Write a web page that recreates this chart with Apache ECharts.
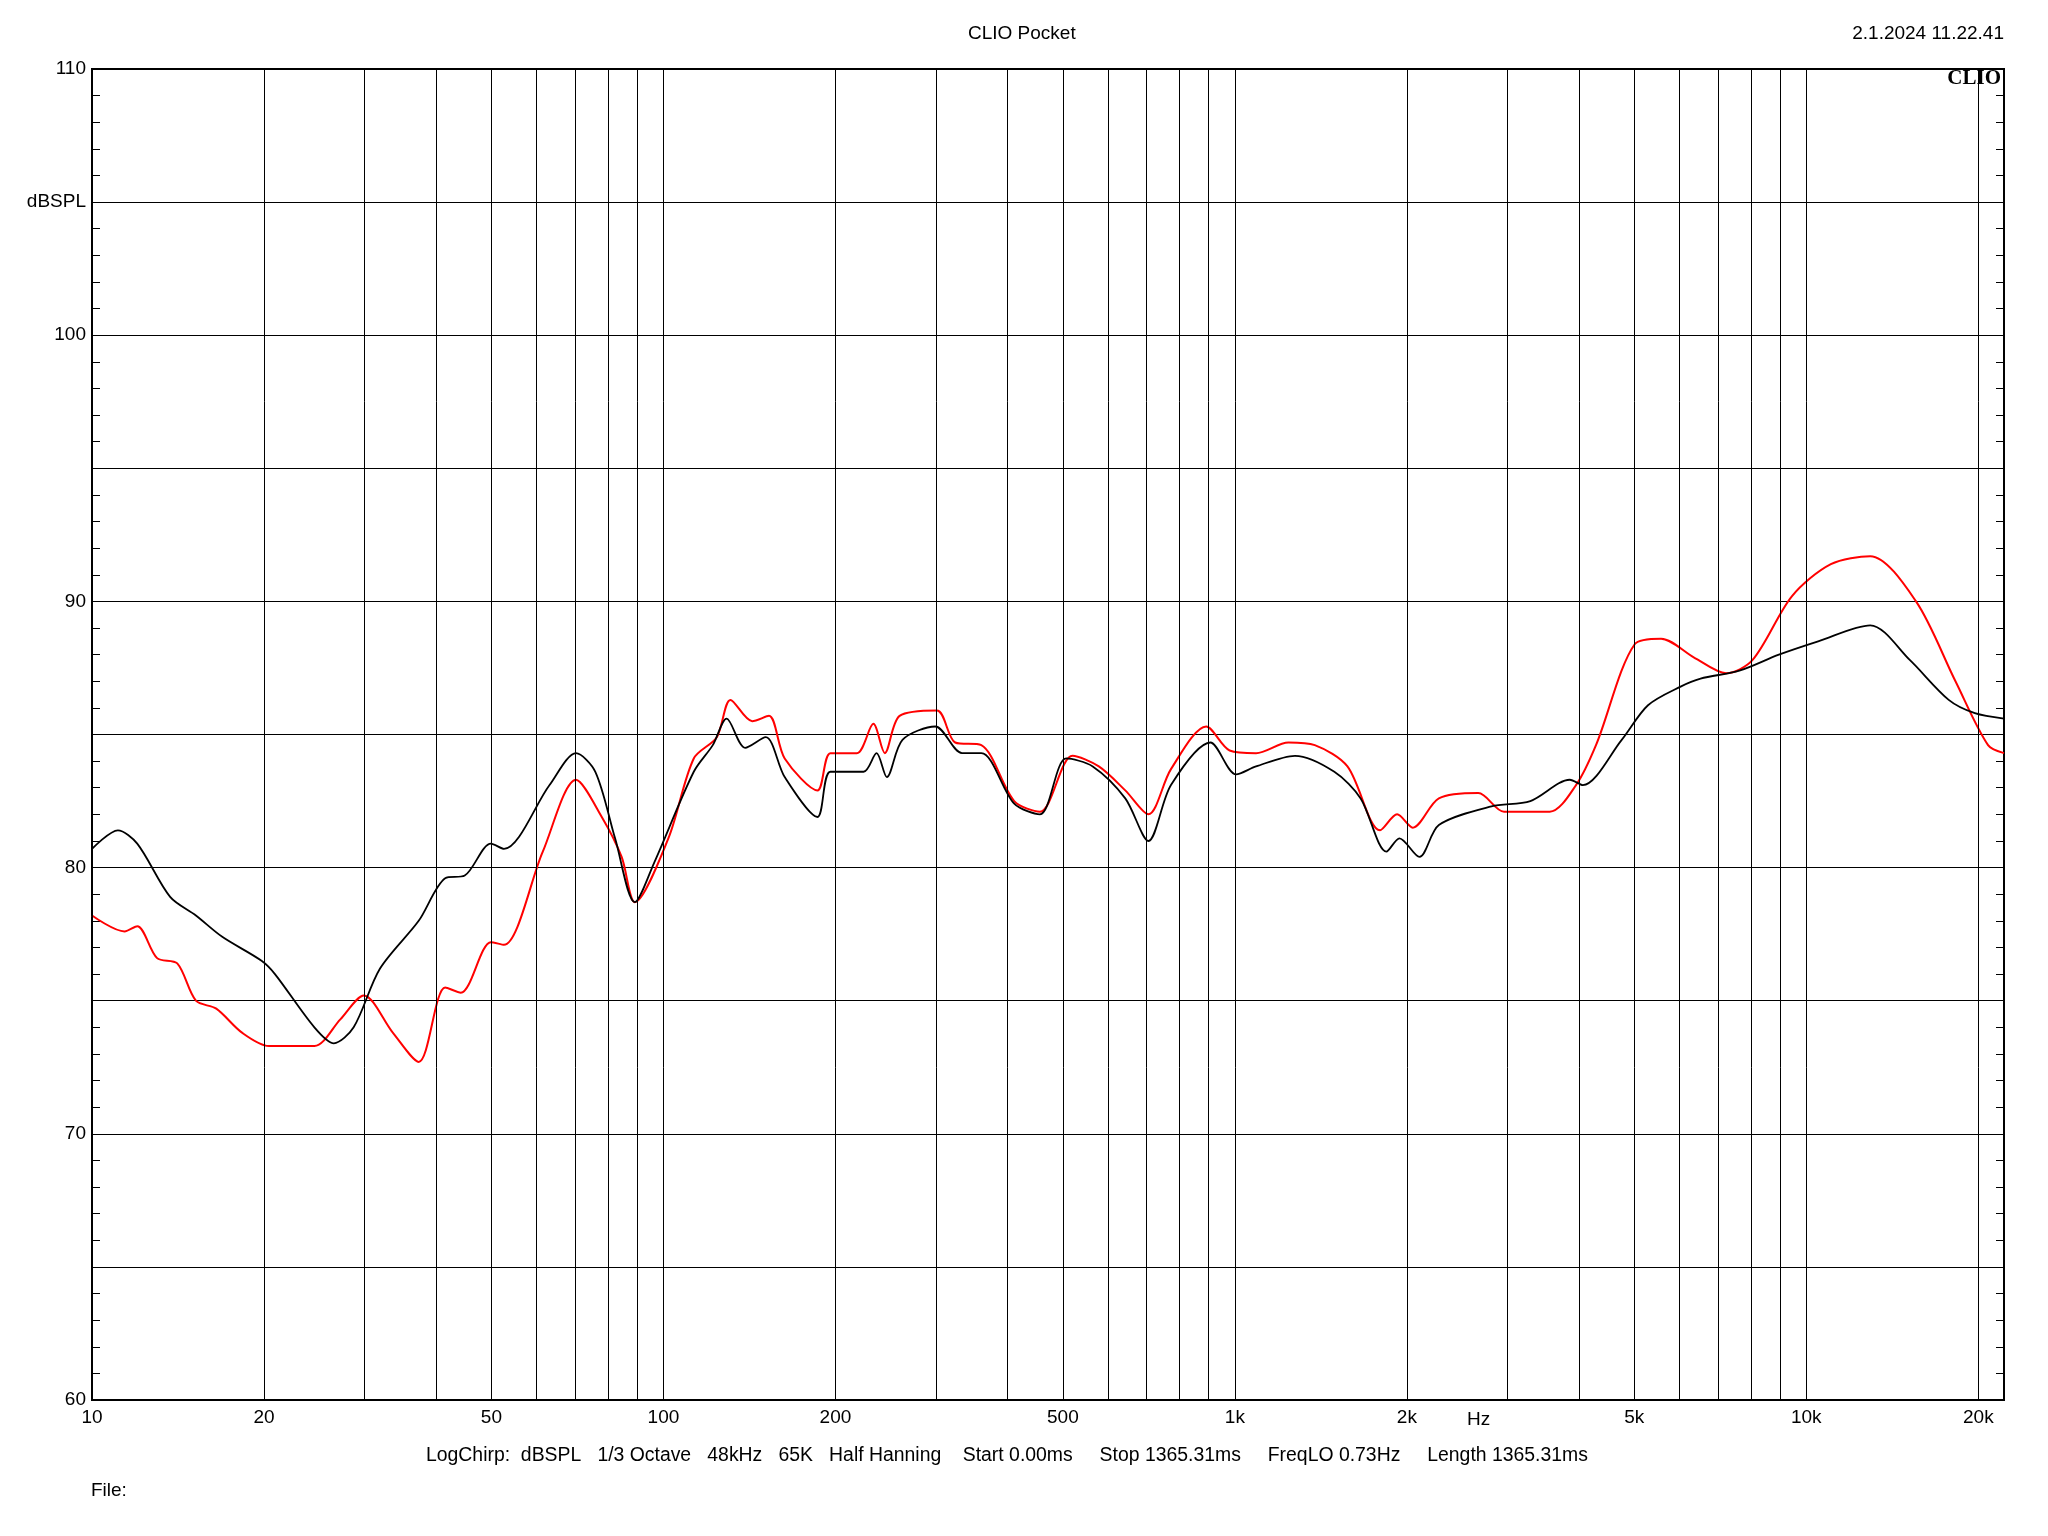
<!DOCTYPE html>
<html><head><meta charset="utf-8">
<script src="https://cdn.jsdelivr.net/npm/echarts@6/dist/echarts.min.js"></script>
<style>html,body{margin:0;padding:0;background:#fff}#c{width:2048px;height:1536px}</style>
</head><body><div id="c"></div>
<script>
// black trace
var blackHz = [10,11.1,12.0,13.7,15.2,16.9,19.8,20.9,24.5,26.5,28.7,31.9,37.3,41.5,44.9,49.9,52.6,63.2,70.3,76.0,82.3,89.1,96.4,113,122,129,139,151,163,186,196,224,236,246,262,299,333,360,411,456,507,564,643,706,773,906,1005,1089,1274,1493,1660,1842,1941,2104,2275,2812,3289,3855,4064,4753,5284,6026,6531,7638,8954,10490,12940,15170,17750,19720,22180];
var blackDb = [80.7,81.4,80.9,78.9,78.2,77.4,76.5,76.0,74.0,73.4,74.0,76.2,78.0,79.6,79.7,80.9,80.7,83.1,84.3,83.6,81.1,78.7,80.2,83.6,84.6,85.6,84.5,84.9,83.4,81.9,83.6,83.6,84.3,83.4,84.8,85.3,84.3,84.3,82.4,82.0,84.1,83.8,82.6,81.0,83.1,84.7,83.5,83.8,84.2,83.6,82.6,80.6,81.1,80.4,81.6,82.3,82.5,83.3,83.1,84.8,86.1,86.8,87.1,87.4,88.0,88.5,89.1,87.8,86.3,85.8,85.6];
// red trace
var redHz = [10,11.4,12.0,13.0,14.1,15.2,16.5,18.3,20.4,24.5,27.2,29.9,33.6,37.3,41.5,44.2,49.9,52.6,61.5,70.3,78.0,84.5,89.1,102,113,124,131,143,153,163,186,196,218,233,244,259,301,324,360,411,456,520,578,643,706,773,891,979,1089,1241,1380,1574,1795,1923,2048,2275,2667,2958,3557,3954,4285,5012,5570,6353,7244,8054,9441,11040,12940,15560,18240,20800,22180];
var redDb = [78.2,77.6,77.8,76.6,76.4,75.0,74.7,73.8,73.3,73.3,74.3,75.2,73.8,72.7,75.5,75.3,77.2,77.1,80.6,83.3,81.9,80.4,78.7,81.1,84.1,84.9,86.3,85.5,85.7,84.1,82.9,84.3,84.3,85.4,84.3,85.7,85.9,84.7,84.6,82.5,82.1,84.2,83.8,82.9,82.0,83.7,85.3,84.4,84.3,84.7,84.6,83.8,81.4,82.0,81.5,82.6,82.8,82.1,82.1,83.1,84.6,88.4,88.6,87.9,87.3,87.8,90.2,91.4,91.7,90.0,87.0,84.6,84.3];
var gridHz = [10,20,30,40,50,60,70,80,90,100,200,300,400,500,600,700,800,900,1000,2000,3000,4000,5000,6000,7000,8000,9000,10000,20000];
var labelHz = {10:'10',20:'20',50:'50',100:'100',200:'200',500:'500',1000:'1k',2000:'2k',5000:'5k',10000:'10k',20000:'20k'};

function pairs(xs, ys) { return xs.map(function (x, i) { return [x, ys[i]]; }); }

var font = 'Arial, "Liberation Sans", sans-serif';
var vlines = gridHz.map(function (f) {
    return { xAxis: f, label: { show: !!labelHz[f], formatter: labelHz[f] || '' } };
});

var chart = echarts.init(document.getElementById('c'));
chart.setOption({
    animation: false,
    backgroundColor: '#fff',
    textStyle: { fontFamily: font },
    grid: { left: 92, right: 44, top: 69, bottom: 136, show: true, borderColor: '#000', borderWidth: 2 },
    graphic: [
        { type: 'text', left: 968, top: 24, style: { text: 'CLIO Pocket', font: '19px ' + font, fill: '#000' } },
        { type: 'text', right: 44, top: 24, style: { text: '2.1.2024 11.22.41', font: '19px ' + font, fill: '#000' } },
        { type: 'text', right: 47, top: 68, style: { text: 'CLIO', font: 'bold 21px "Liberation Serif", serif', fill: '#000' } },
        { type: 'text', left: 1467, top: 1410, style: { text: 'Hz', font: '19px ' + font, fill: '#000' } },
        { type: 'text', left: 426, top: 1446, style: { text: 'LogChirp:  dBSPL   1/3 Octave   48kHz   65K   Half Hanning    Start 0.00ms     Stop 1365.31ms     FreqLO 0.73Hz     Length 1365.31ms', font: '19.4px ' + font, fill: '#000' } },
        { type: 'text', left: 91, top: 1481, style: { text: 'File:', font: '19px ' + font, fill: '#000' } }
    ],
    xAxis: {
        type: 'log', logBase: 10, min: 10, max: 22180,
        axisLine: { show: false }, axisTick: { show: false }, axisLabel: { show: false }, splitLine: { show: false }
    },
    yAxis: [{
        type: 'value', min: 60, max: 110, interval: 5,
        axisLine: { show: false },
        axisTick: { show: true, inside: true, length: 10, lineStyle: { color: '#000' } },
        minorTick: { show: true, splitNumber: 5, length: 8, lineStyle: { color: '#000' } },
        axisLabel: { color: '#000', fontSize: 19, margin: 6, formatter: function (v) { return v % 10 === 0 ? v : (v === 105 ? 'dBSPL' : ''); } },
        splitLine: { show: true, lineStyle: { color: '#000', width: 1 } }
    }, {
        type: 'value', min: 60, max: 110, interval: 5, position: 'right',
        axisLine: { show: false },
        axisTick: { show: true, inside: true, length: 10, lineStyle: { color: '#000' } },
        minorTick: { show: true, splitNumber: 5, length: 8, lineStyle: { color: '#000' } },
        axisLabel: { show: false }, splitLine: { show: false }
    }],
    series: [{
        type: 'line', data: [], silent: true,
        markLine: {
            silent: true, symbol: 'none', animation: false,
            lineStyle: { color: '#000', width: 1, type: 'solid' },
            label: { position: 'start', color: '#000', fontSize: 19, distance: 8, fontFamily: font },
            data: vlines
        }
    }, {
        name: 'red', type: 'line', data: pairs(redHz, redDb), showSymbol: false, smooth: 0.3,
        lineStyle: { color: '#ff0000', width: 2 }, z: 3
    }, {
        name: 'black', type: 'line', data: pairs(blackHz, blackDb), showSymbol: false, smooth: 0.3,
        lineStyle: { color: '#000', width: 1.8 }, z: 4
    }]
});
</script></body></html>
